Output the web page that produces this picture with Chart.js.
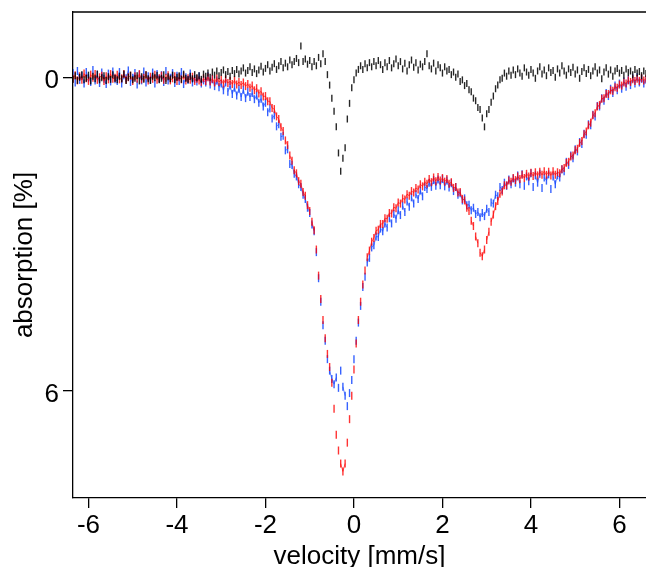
<!DOCTYPE html>
<html>
<head>
<meta charset="utf-8">
<script src="https://cdn.jsdelivr.net/npm/chart.js@4.4.1/dist/chart.umd.min.js"></script>
<style>
  html, body { margin:0; padding:0; background:#fff; overflow:hidden; }
  #outer { width:646px; height:567px; overflow:hidden; position:relative; }
  #inner { width:646px; height:590px; position:relative; }
</style>
</head>
<body>
<div id="outer"><div id="inner"><canvas id="c"></canvas></div></div>
<script>
// velocity grid (channels): start and step in mm/s
const V_START = -6.35;
const V_STEP = 0.05;

// absorption [%] — red series
const redAbs = [
  0.03,-0.04,0.06,-0.02,0.05,-0.07,0.02,0.07,-0.05,0.01,-0.06,0.05,0.00,-0.03,0.07,-0.02,0.04,-0.06,0.03,0.01,
  -0.05,0.04,0.02,-0.06,0.05,0.00,-0.03,0.07,-0.02,0.03,-0.06,0.04,0.01,-0.04,0.06,-0.01,0.03,-0.05,0.05,0.02,
  -0.03,0.05,0.01,-0.04,0.06,0.02,-0.02,0.07,0.00,0.04,-0.03,0.06,0.02,0.05,-0.01,0.07,0.03,0.06,0.09,0.02,
  0.07,0.00,0.08,0.03,0.10,0.02,0.09,0.05,0.12,0.04,0.11,0.07,0.13,0.06,0.14,0.09,0.15,0.10,0.17,0.13,
  0.20,0.16,0.25,0.21,0.31,0.27,0.37,0.36,0.46,0.46,0.59,0.61,0.75,0.80,0.96,1.03,1.21,1.30,1.50,1.60,
  1.78,1.84,1.99,2.04,2.20,2.27,2.45,2.56,2.77,2.93,3.30,3.80,4.25,4.65,5.00,5.30,5.55,5.85,6.35,6.85,
  7.15,7.40,7.55,7.40,7.00,6.55,6.10,5.60,5.10,4.65,4.30,3.97,3.70,3.45,3.32,3.15,3.08,2.94,2.92,2.81,
  2.81,2.70,2.71,2.60,2.61,2.49,2.51,2.40,2.42,2.32,2.34,2.24,2.27,2.18,2.21,2.12,2.15,2.05,2.09,2.00,
  2.04,1.95,2.01,1.92,1.99,1.91,1.98,1.93,2.00,1.95,2.04,2.01,2.12,2.10,2.21,2.20,2.33,2.36,2.50,2.56,
  2.75,2.85,3.05,3.18,3.36,3.43,3.30,3.12,2.96,2.77,2.63,2.47,2.37,2.23,2.19,2.07,2.07,1.98,2.00,1.93,
  1.97,1.90,1.95,1.87,1.93,1.85,1.90,1.83,1.89,1.82,1.88,1.81,1.87,1.80,1.87,1.81,1.88,1.80,1.87,1.82,
  1.84,1.76,1.74,1.64,1.62,1.52,1.50,1.40,1.37,1.26,1.22,1.09,1.04,0.92,0.87,0.73,0.69,0.56,0.53,0.41,
  0.40,0.32,0.32,0.25,0.26,0.19,0.20,0.14,0.16,0.10,0.12,0.06,0.09,0.04,0.07,0.03,0.07,0.02,0.06,0.03
];

// absorption [%] — blue series
const blueAbs = [
  -0.08,0.10,-0.12,0.05,-0.03,0.12,-0.10,0.02,0.09,-0.14,0.06,-0.05,0.11,-0.09,0.03,0.13,-0.07,0.08,-0.11,0.04,
  0.07,-0.10,0.12,-0.04,0.02,-0.13,0.09,0.01,-0.08,0.14,-0.05,0.06,-0.11,0.10,-0.02,0.05,-0.09,0.12,-0.06,0.03,
  -0.04,0.09,-0.12,0.06,0.01,-0.08,0.11,-0.03,0.07,-0.10,0.13,0.00,0.05,-0.07,0.10,0.03,0.08,-0.02,0.12,0.06,
  0.10,-0.02,0.14,0.04,0.17,0.06,0.19,0.12,0.25,0.10,0.28,0.16,0.32,0.20,0.35,0.22,0.38,0.24,0.40,0.28,
  0.38,0.30,0.42,0.35,0.49,0.41,0.56,0.49,0.67,0.60,0.79,0.73,0.94,0.90,1.14,1.12,1.40,1.38,1.66,1.68,
  1.85,1.90,2.05,2.10,2.25,2.33,2.50,2.60,2.82,2.95,3.35,3.85,4.30,4.75,5.05,5.40,5.62,5.78,5.88,5.75,
  5.95,5.62,5.93,6.10,6.30,6.05,5.80,5.40,5.05,4.70,4.38,4.02,3.82,3.55,3.46,3.26,3.22,3.05,3.06,2.90,
  2.95,2.80,2.88,2.70,2.80,2.62,2.71,2.55,2.64,2.46,2.58,2.38,2.48,2.30,2.42,2.24,2.33,2.17,2.28,2.10,
  2.14,2.02,2.10,1.97,2.08,1.96,2.07,1.95,2.09,1.98,2.11,2.03,2.18,2.10,2.25,2.22,2.36,2.32,2.45,2.44,
  2.55,2.50,2.62,2.58,2.68,2.60,2.66,2.52,2.58,2.40,2.42,2.25,2.28,2.10,2.16,2.02,2.08,1.96,2.05,1.94,
  2.02,1.88,2.05,1.86,2.08,1.90,1.99,1.84,2.10,1.88,2.02,1.85,2.12,1.92,1.98,1.86,2.14,1.90,2.05,1.88,
  1.92,1.76,1.80,1.62,1.68,1.50,1.55,1.38,1.42,1.24,1.28,1.08,1.10,0.90,0.92,0.72,0.75,0.55,0.56,0.40,
  0.45,0.30,0.36,0.22,0.30,0.16,0.25,0.12,0.22,0.08,0.18,0.05,0.15,0.02,0.12,0.00,0.10,0.03,0.12,0.05
];

// absorption [%] — black (difference) series
const blackAbs = [
  0.04,-0.03,0.06,0.00,-0.05,0.05,0.02,-0.04,0.07,-0.02,0.03,-0.06,0.05,0.01,-0.03,0.06,-0.01,0.04,-0.05,0.02,
  0.05,-0.02,0.03,-0.06,0.06,0.00,-0.04,0.05,0.02,-0.03,0.07,-0.01,0.04,-0.05,0.03,0.06,-0.02,0.01,-0.04,0.05,
  0.02,-0.05,0.06,-0.01,0.03,-0.04,0.05,0.00,-0.03,0.04,-0.06,0.02,0.05,-0.02,0.03,-0.05,0.01,-0.03,0.04,-0.06,
  -0.02,-0.08,0.00,-0.10,-0.04,-0.12,-0.03,-0.09,-0.14,-0.05,-0.11,-0.02,-0.13,-0.07,-0.15,-0.06,-0.12,-0.18,-0.08,-0.13,
  -0.20,-0.09,-0.16,-0.07,-0.14,-0.21,-0.10,-0.17,-0.24,-0.12,-0.19,-0.26,-0.15,-0.22,-0.30,-0.18,-0.27,-0.20,-0.33,-0.24,
  -0.30,-0.36,-0.28,-0.60,-0.30,-0.35,-0.25,-0.32,-0.20,-0.30,-0.22,-0.38,-0.26,-0.45,-0.30,-0.05,0.15,0.40,0.65,0.95,
  1.45,1.80,1.55,1.35,0.80,0.50,0.20,0.05,-0.08,-0.15,-0.22,-0.15,-0.26,-0.18,-0.28,-0.20,-0.30,-0.22,-0.32,-0.24,
  -0.15,-0.28,-0.20,-0.32,-0.18,-0.26,-0.35,-0.22,-0.30,-0.16,-0.27,-0.12,-0.24,-0.33,-0.19,-0.28,-0.14,-0.25,-0.20,-0.30,
  -0.45,-0.22,-0.16,-0.27,-0.12,-0.24,-0.18,-0.08,-0.20,-0.12,-0.15,-0.05,-0.10,0.00,-0.06,0.08,0.05,0.16,0.12,0.24,
  0.28,0.40,0.45,0.58,0.62,0.78,0.95,0.70,0.62,0.48,0.36,0.22,0.15,0.05,0.02,-0.08,-0.02,-0.12,-0.04,-0.14,
  -0.05,-0.16,-0.08,-0.02,-0.18,-0.10,-0.04,-0.15,-0.08,0.02,-0.12,-0.20,-0.06,-0.14,-0.03,-0.18,-0.09,-0.13,0.00,-0.16,
  -0.08,-0.22,-0.12,-0.04,-0.16,-0.09,-0.19,-0.06,-0.14,0.02,-0.11,-0.18,-0.07,-0.15,-0.03,-0.12,-0.20,-0.08,-0.14,0.03,
  -0.10,-0.18,-0.06,-0.14,-0.02,-0.12,-0.17,-0.08,-0.13,-0.04,-0.16,-0.09,-0.12,-0.05,-0.15,-0.08,-0.11,-0.03,-0.12,-0.07
];

// tick labels
const xTickValues = [-6, -4, -2, 0, 2, 4, 6];
const yTickValues = [0, 6];

const velocity = redAbs.map((_, i) => +(V_START + i * V_STEP).toFixed(2));
const toPts = arr => arr.map((a, i) => ({ x: velocity[i], y: a }));

Chart.defaults.font.family = "'Liberation Sans', Arial, sans-serif";
Chart.defaults.color = '#000';

const frameTop = {
  id: 'frameTop',
  afterDraw(chart) {
    const { ctx, chartArea } = chart;
    ctx.save();
    ctx.strokeStyle = '#000';
    ctx.lineWidth = 1.3;
    ctx.beginPath();
    ctx.moveTo(chartArea.left, chartArea.top);
    ctx.lineTo(chartArea.right + 2, chartArea.top);
    ctx.stroke();
    ctx.restore();
  }
};

// traces are drawn as vertical tick marks; a thin joining line only where the trace is flat
const traceStyle = (color, joinColor, radius) => ({
  showLine: joinColor !== null,
  borderWidth: 1,
  borderColor: joinColor || color,
  segment: joinColor ? {
    borderColor: c => Math.abs(c.p1.y - c.p0.y) > 9 ? 'rgba(0,0,0,0)' : joinColor
  } : undefined,
  pointStyle: 'line',
  pointRotation: 90,
  pointRadius: radius,
  pointHoverRadius: radius,
  pointBorderWidth: 1.4,
  pointBorderColor: color,
  pointBackgroundColor: color,
  backgroundColor: color
});

new Chart(document.getElementById('c'), {
  type: 'scatter',
  data: {
    datasets: [
      Object.assign({ label: 'blue', data: toPts(blueAbs), order: 3 },
        traceStyle('rgba(20,70,255,0.85)', 'rgba(20,70,255,0.6)', 4)),
      Object.assign({ label: 'red', data: toPts(redAbs), order: 2 },
        traceStyle('rgba(255,0,0,0.8)', 'rgba(255,0,0,0.6)', 4)),
      Object.assign({ label: 'diff', data: toPts(blackAbs), order: 1 },
        traceStyle('rgba(0,0,0,0.85)', null, 3.5))
    ]
  },
  options: {
    responsive: true,
    maintainAspectRatio: false,
    animation: false,
    events: [],
    layout: { autoPadding: false, padding: { top: 12, right: 0, bottom: 0, left: 0 } },
    plugins: { legend: { display: false }, tooltip: { enabled: false } },
    scales: {
      x: {
        type: 'linear',
        min: -6.35,
        max: 6.6,
        afterBuildTicks: s => { s.ticks = xTickValues.map(v => ({ value: v })); },
        afterFit: s => { s.height = 92; s.paddingLeft = 0; s.paddingRight = 0; },
        grid: { drawOnChartArea: false, drawTicks: true, tickLength: 10, color: '#000', lineWidth: 1.3 },
        border: { display: true, color: '#000', width: 1.3 },
        ticks: { font: { size: 26 }, padding: 2, maxRotation: 0, autoSkip: false, color: '#000' },
        title: { display: true, text: 'velocity [mm/s]', font: { size: 26 }, padding: { top: 0, bottom: 18 }, color: '#000' }
      },
      y: {
        type: 'linear',
        reverse: true,
        min: -1.25,
        max: 8.06,
        afterBuildTicks: s => { s.ticks = yTickValues.map(v => ({ value: v })); },
        afterFit: s => { s.width = 73; s.paddingTop = 0; s.paddingBottom = 0; },
        grid: { drawOnChartArea: false, drawTicks: true, tickLength: 10, color: '#000', lineWidth: 1.3 },
        border: { display: true, color: '#000', width: 1.3 },
        ticks: { font: { size: 26 }, padding: 4, labelOffset: 4, color: '#000' },
        title: { display: true, text: 'absorption [%]', font: { size: 26 }, padding: { top: 9, bottom: 0 }, color: '#000' }
      }
    }
  },
  plugins: [frameTop]
});
</script>
</body>
</html>
